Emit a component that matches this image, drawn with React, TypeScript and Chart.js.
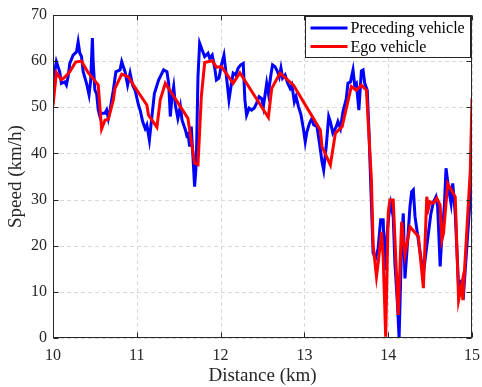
import { useEffect, useRef } from "react";
import { Chart, registerables } from "chart.js";

Chart.register(...registerables);

// Preceding vehicle speed profile (km/h) over distance (km)
const precedingDistance = [
  10.0, 10.04, 10.08, 10.1, 10.14, 10.16, 10.18, 10.2, 10.24, 10.28, 10.3, 10.32, 10.34, 10.36, 10.4, 10.43,
  10.45, 10.47, 10.48, 10.5, 10.52, 10.54, 10.56, 10.58, 10.62, 10.64, 10.66, 10.68, 10.72, 10.75, 10.8, 10.82,
  10.86, 10.89, 10.92, 10.95, 10.98, 11.02, 11.04, 11.07, 11.1, 11.12, 11.15, 11.18, 11.21, 11.26, 11.32, 11.36,
  11.38, 11.4, 11.42, 11.44, 11.46, 11.49, 11.52, 11.54, 11.58, 11.6, 11.61, 11.63, 11.65, 11.67, 11.69, 11.71,
  11.73, 11.75, 11.78, 11.81, 11.85, 11.87, 11.9, 11.93, 11.95, 11.98, 12.01, 12.04, 12.07, 12.1, 12.13, 12.15,
  12.18, 12.21, 12.24, 12.27, 12.29, 12.31, 12.34, 12.37, 12.4, 12.43, 12.46, 12.49, 12.51, 12.55, 12.57, 12.6,
  12.62, 12.65, 12.68, 12.7, 12.72, 12.74, 12.77, 12.8, 12.83, 12.85, 12.88, 12.9, 12.93, 12.96, 12.99, 13.01,
  13.03, 13.06, 13.09, 13.11, 13.15, 13.18, 13.21, 13.23, 13.26, 13.29, 13.31, 13.34, 13.38, 13.4, 13.43, 13.46,
  13.5, 13.52, 13.55, 13.58, 13.6, 13.62, 13.65, 13.68, 13.7, 13.72, 13.75, 13.77, 13.79, 13.82, 13.85, 13.88,
  13.91, 13.94, 13.96, 13.98, 14.01, 14.03, 14.06, 14.08, 14.11, 14.13, 14.16, 14.18, 14.2, 14.23, 14.26, 14.28,
  14.3, 14.32, 14.36, 14.4, 14.42, 14.45, 14.48, 14.51, 14.54, 14.57, 14.59, 14.62, 14.64, 14.67, 14.69, 14.72,
  14.75, 14.77, 14.8, 14.84, 14.86, 14.9, 14.94, 14.98, 15.0,
];
const precedingSpeed = [
  55.5, 59.9, 57.7, 55.2, 55.5, 54.8, 56.6, 59.5, 61.3, 62, 64.2, 61.7, 61, 57.7, 55.2, 52.7,
  55.9, 65, 59.5, 53.7, 53, 49.4, 48, 48.7, 48.7, 49.4, 47.6, 49.4, 53.7, 57.7, 58.1, 59.9,
  57.7, 54.8, 57.4, 54.8, 53.7, 50.5, 49.4, 46.9, 45.4, 46.2, 42.9, 48, 53, 55.9, 58.1, 57.7,
  55.2, 48, 52.3, 54.5, 50.5, 47.6, 50.2, 47.2, 45.1, 43.6, 44.7, 41.5, 45.8, 39.3, 32.8, 37.9,
  56.6, 63.9, 62.4, 61, 61.7, 60.6, 61.3, 58.5, 55.9, 56.3, 59.2, 61.3, 56.6, 51.6, 55.2, 57.4,
  57, 58.5, 59.2, 59.5, 51.6, 48.3, 49.8, 49.4, 49.8, 50.9, 52.3, 51.9, 50.1, 55.2, 53, 57,
  59.2, 58.8, 57.7, 56.6, 58.5, 56.3, 57, 55.2, 54.1, 54.8, 51.2, 52.3, 50.1, 48.3, 45.1, 42.5,
  44.7, 46.5, 47.6, 46.2, 45.8, 42.2, 38.2, 36.4, 41.5, 48, 46.9, 44.4, 45.8, 46.9, 45.4, 49,
  51.9, 55.2, 55.5, 58.1, 54.8, 55.2, 49.4, 57.9, 58.1, 55.2, 53.7, 45.1, 34.2, 18.4, 17.3, 19.4,
  25.6, 25.6, 14.7, 21.2, 27, 29.2, 26.3, 16.2, 7.5, 0, 20.5, 27, 12.9, 20.5, 28.5, 31.7,
  32.1, 26.3, 21.2, 16.2, 14, 18.4, 22.7, 27, 29.5, 30.6, 28.5, 15.5, 22, 28.5, 36.8, 32.4,
  29.2, 33.5, 27, 11.1, 11.9, 9.7, 20.2, 30.6, 44.4,
];

// Ego vehicle speed profile (km/h) over distance (km)
const egoDistance = [
  10.0, 10.04, 10.1, 10.14, 10.2, 10.27, 10.34, 10.42, 10.54, 10.58, 10.62, 10.66, 10.72, 10.74, 10.82, 10.9,
  10.96, 11.12, 11.14, 11.24, 11.28, 11.34, 11.61, 11.69, 11.73, 11.77, 11.81, 11.9, 11.95, 12.01, 12.15, 12.23,
  12.57, 12.61, 12.71, 12.87, 13.19, 13.21, 13.31, 13.37, 13.45, 13.56, 13.62, 13.68, 13.74, 13.8, 13.82, 13.86,
  13.88, 13.92, 13.94, 13.97, 14.0, 14.02, 14.06, 14.12, 14.16, 14.2, 14.26, 14.36, 14.42, 14.46, 14.48, 14.5,
  14.54, 14.58, 14.62, 14.64, 14.66, 14.71, 14.8, 14.84, 14.88, 14.89, 14.98, 15.0,
];
const egoSpeed = [
  50.3, 57.5, 56, 56.5, 57.7, 59.8, 60, 57.5, 54.8, 45.3, 47.2, 47.4, 51.6, 54.1, 57.2, 56.6,
  54.8, 50.5, 48.3, 45.7, 51.6, 55.2, 47.6, 37.9, 37.6, 52.3, 59.7, 60.1, 58.7, 58.8, 55.2, 57.5,
  47.8, 54.1, 57.4, 54.8, 45.1, 41.5, 37.5, 44.4, 45.8, 54.5, 53.7, 54.8, 53.7, 34.2, 20.2, 13.3,
  16.2, 23, 17.6, 0.3, 27, 29.9, 29.9, 5, 25.2, 18, 24.1, 22, 10.8, 30.6, 28.1, 29.5,
  29.2, 30.3, 28.8, 21.2, 22.7, 33.5, 30.6, 8.2, 11.9, 8.2, 36.4, 52,
];

const xTicks = [10, 11, 12, 13, 14, 15];
const yTicks = [0, 10, 20, 30, 40, 50, 60, 70];
const seriesLabels = ["Preceding vehicle", "Ego vehicle"];
const seriesColors = ["#0000ff", "#ff0000"];

const FONT = '"Liberation Serif", "Times New Roman", Times, serif';
const INK = "#262626";
const GRID = "#d9d9d9";

// Dashed grid, drawn beneath the data lines
const gridPlugin = {
  id: "dashedGrid",
  beforeDatasetsDraw(chart: any) {
    const { ctx, chartArea: a, scales } = chart;
    ctx.save();
    ctx.strokeStyle = GRID;
    ctx.lineWidth = 1;
    ctx.setLineDash([4, 3]);
    ctx.beginPath();
    xTicks.forEach((v) => {
      const px = Math.round(scales.x.getPixelForValue(v)) + 0.5;
      ctx.moveTo(px, a.top);
      ctx.lineTo(px, a.bottom);
    });
    yTicks.forEach((v) => {
      const py = Math.round(scales.y.getPixelForValue(v)) + 0.5;
      ctx.moveTo(a.left, py);
      ctx.lineTo(a.right, py);
    });
    ctx.stroke();
    ctx.restore();
  },
};

// Box around the axes, inward tick marks and the boxed legend
const framePlugin = {
  id: "frame",
  afterDraw(chart: any) {
    const { ctx, chartArea: a, scales } = chart;
    const xs = scales.x;
    const ys = scales.y;
    const tl = 5;
    ctx.save();
    ctx.strokeStyle = INK;
    ctx.lineWidth = 1;
    ctx.setLineDash([]);
    const L = Math.round(a.left) + 0.5;
    const R = Math.round(a.right) - 0.5;
    const T = Math.round(a.top) + 0.5;
    const B = Math.round(a.bottom) - 0.5;
    ctx.strokeRect(L, T, R - L, B - T);
    ctx.beginPath();
    xTicks.forEach((v) => {
      const px = Math.round(xs.getPixelForValue(v)) + 0.5;
      ctx.moveTo(px, B);
      ctx.lineTo(px, B - tl);
      ctx.moveTo(px, T);
      ctx.lineTo(px, T + tl);
    });
    yTicks.forEach((v) => {
      const py = Math.round(ys.getPixelForValue(v)) + 0.5;
      ctx.moveTo(L, py);
      ctx.lineTo(L + tl, py);
      ctx.moveTo(R, py);
      ctx.lineTo(R - tl, py);
    });
    ctx.stroke();

    // legend
    const boxW = 165;
    const boxH = 41;
    const bx = Math.round(a.right) - 2 - boxW + 0.5;
    const by = Math.round(a.top) + 1 + 0.5;
    ctx.fillStyle = "#ffffff";
    ctx.fillRect(bx, by, boxW, boxH);
    ctx.strokeStyle = INK;
    ctx.strokeRect(bx, by, boxW, boxH);
    ctx.font = `16px ${FONT}`;
    ctx.textBaseline = "middle";
    ctx.textAlign = "left";
    seriesLabels.forEach((label, i) => {
      const rowY = by + 11.5 + i * 18.5;
      ctx.strokeStyle = seriesColors[i];
      ctx.lineWidth = 3;
      ctx.beginPath();
      ctx.moveTo(bx + 5, rowY);
      ctx.lineTo(bx + 42, rowY);
      ctx.stroke();
      ctx.fillStyle = "#000000";
      ctx.fillText(label, bx + 45, rowY + 1);
    });
    ctx.restore();
  },
};

export default function App() {
  const canvasRef = useRef<HTMLCanvasElement | null>(null);

  useEffect(() => {
    const canvas = canvasRef.current;
    if (!canvas) return;
    const chart = new Chart(canvas, {
      type: "line",
      data: {
        datasets: [
          {
            label: seriesLabels[1],
            data: egoDistance.map((d, i) => ({ x: d, y: egoSpeed[i] })),
            borderColor: seriesColors[1],
            borderWidth: 3,
            pointRadius: 0,
            tension: 0,
            fill: false,
            order: 0,
          },
          {
            label: seriesLabels[0],
            data: precedingDistance.map((d, i) => ({ x: d, y: precedingSpeed[i] })),
            borderColor: seriesColors[0],
            borderWidth: 3,
            pointRadius: 0,
            tension: 0,
            fill: false,
            order: 1,
          },
        ],
      },
      options: {
        animation: false,
        responsive: false,
        maintainAspectRatio: false,
        devicePixelRatio: 1,
        layout: { padding: { top: 15, right: 10, left: 0, bottom: 0 } },
        plugins: {
          legend: { display: false },
          tooltip: { enabled: false },
        },
        scales: {
          x: {
            type: "linear",
            min: 10,
            max: 15,
            afterBuildTicks: (scale: any) => {
              scale.ticks = xTicks.map((v) => ({ value: v }));
            },
            afterFit: (scale: any) => {
              scale.height = 49;
              scale.paddingLeft = 0;
              scale.paddingRight = 0;
            },
            grid: { display: false, drawTicks: false },
            border: { display: false },
            ticks: {
              padding: 8,
              color: INK,
              font: { family: FONT, size: 16 },
              maxRotation: 0,
              callback: (v: any) => String(v),
            },
            title: {
              display: true,
              text: "Distance (km)",
              color: INK,
              font: { family: FONT, size: 19 },
              padding: { top: 0, bottom: 0 },
            },
          },
          y: {
            type: "linear",
            min: 0,
            max: 70,
            afterBuildTicks: (scale: any) => {
              scale.ticks = yTicks.map((v) => ({ value: v }));
            },
            afterFit: (scale: any) => {
              scale.width = 53;
              scale.paddingTop = 0;
              scale.paddingBottom = 0;
            },
            grid: { display: false, drawTicks: false },
            border: { display: false },
            ticks: {
              padding: 6,
              color: INK,
              font: { family: FONT, size: 16 },
              callback: (v: any) => String(v),
            },
            title: {
              display: true,
              text: "Speed (km/h)",
              color: INK,
              font: { family: FONT, size: 19 },
              padding: { top: 5, bottom: 0 },
            },
          },
        },
      },
      plugins: [gridPlugin, framePlugin],
    });
    return () => chart.destroy();
  }, []);

  return (
    <div style={{ position: "absolute", left: 0, top: 0, width: 482, height: 387, background: "#ffffff" }}>
      <canvas ref={canvasRef} width={482} height={387} style={{ display: "block", width: 482, height: 387 }} />
    </div>
  );
}
